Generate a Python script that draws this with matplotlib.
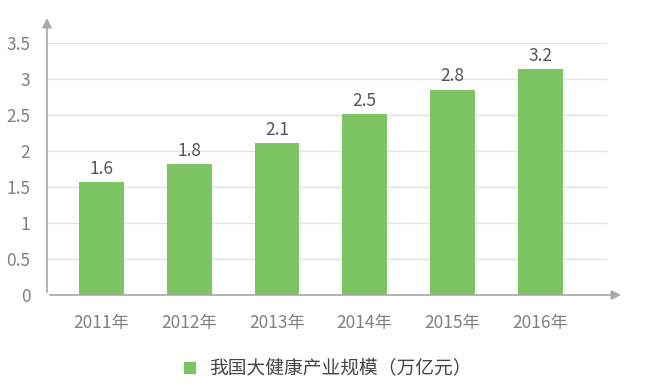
import matplotlib.pyplot as plt
from matplotlib.patches import Patch

plt.rcParams['font.family'] = ['Noto Sans CJK SC', 'DejaVu Sans']

years = ["2011年", "2012年", "2013年", "2014年", "2015年", "2016年"]
values = [1.57, 1.82, 2.11, 2.51, 2.85, 3.14]
labels = ["1.6", "1.8", "2.1", "2.5", "2.8", "3.2"]
yticks = [0, 0.5, 1, 1.5, 2, 2.5, 3, 3.5]
series_name = "我国大健康产业规模（万亿元）"

GREEN = "#7dc462"
GRAY = "#808080"

fig = plt.figure(figsize=(6.5, 3.88), dpi=100)
ax = fig.add_axes([0.0723, 0.2397, 0.8615, 0.6495])

x = list(range(len(years)))
ax.bar(x, values, width=0.51, color=GREEN, zorder=3)
for xi, v, lab in zip(x, values, labels):
    ax.text(xi, v + 0.06, lab, ha="center", va="bottom", fontsize=12.5, color="#555555")

ax.set_xlim(-0.62, 5.76)
ax.set_ylim(0, 3.5)
ax.set_yticks(yticks)
ax.set_yticklabels([f"{t:g}" for t in yticks])
ax.set_xticks(x)
ax.set_xticklabels(years)
ax.tick_params(length=0, labelsize=12.5, colors=GRAY)
ax.tick_params(axis="x", pad=14)
ax.tick_params(axis="y", pad=12)
ax.grid(axis="y", color="#e3e3e3", linewidth=1, zorder=0)
for s in ax.spines.values():
    s.set_visible(False)

# axes with arrow heads
arrow = dict(arrowstyle="-|>", color="#a8a8a8", lw=1.2, mutation_scale=14)
ax.annotate("", xy=(0, 1.11), xytext=(0, 0), xycoords="axes fraction",
            arrowprops=arrow, annotation_clip=False)
ax.annotate("", xy=(1.03, 0), xytext=(0, 0), xycoords="axes fraction",
            arrowprops=arrow, annotation_clip=False)

fig.legend(handles=[Patch(color=GREEN, label=series_name)], loc="center",
           bbox_to_anchor=(0.505, 0.05), frameon=False, fontsize=13.5,
           handlelength=0.55, handleheight=0.55, labelcolor="#444444")

fig.savefig("out.png", dpi=100)
